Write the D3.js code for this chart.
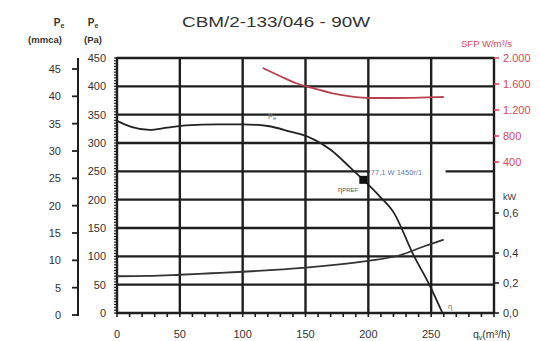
<!DOCTYPE html>
<html>
<head>
<meta charset="utf-8">
<script src="https://cdn.jsdelivr.net/npm/d3@7"></script>
<style>
  body { margin: 0; background: #fff; }
  text { font-family: "Liberation Sans", Arial, sans-serif; fill: #333; }
</style>
</head>
<body>
<div class="chart"></div>
<script>
// chart values
var flowTicks = [0, 50, 100, 150, 200, 250];
var paTicks = [0, 50, 100, 150, 200, 250, 300, 350, 400, 450];
var mmTicks = [0, 5, 10, 15, 20, 25, 30, 35, 40, 45];
var sfpTicks = [400, 800, 1200, 1600, 2000];
var sfpTickLabels = ["400", "800", "1.200", "1.600", "2.000"];
var kwTicks = [0, 0.2, 0.4, 0.6];
var kwTickLabels = ["0,0", "0,2", "0,4", "0,6"];

// pressure curve (Pa)
var presFlow = [0, 12, 26, 40, 55, 80, 100, 120, 138, 152, 170, 185, 196, 209, 220, 236, 249, 259];
var presPa = [339, 328, 323, 327, 331, 333, 333, 330, 320, 311, 288, 258, 235, 206, 178, 102, 48, 0];

// absorbed power (kW)
var powFlow = [0, 25, 50, 75, 100, 125, 150, 175, 200, 225, 245, 260];
var powKw = [0.245, 0.247, 0.255, 0.265, 0.275, 0.287, 0.302, 0.322, 0.348, 0.385, 0.435, 0.467];

// SFP (W/m3/s)
var sfpFlow = [116, 130, 142, 156, 178, 200, 218, 235, 247, 260];
var sfpVal = [1846, 1720, 1615, 1538, 1431, 1385, 1385, 1388, 1393, 1400];

// operating point
var opFlow = 196;
var opPa = 235;

var svgWidth = 540;
var svgHeight = 341;

var svg = d3.select(".chart")
  .append("svg")
  .attr("width", svgWidth)
  .attr("height", svgHeight);

var x = d3.scaleLinear().domain([0, 300]).range([117, 494]);
var y = d3.scaleLinear().domain([0, 450]).range([313, 58]);
var yMm = d3.scaleLinear().domain([0, 45]).range([315, 69]);
var ySfp = d3.scaleLinear().domain([400, 2000]).range([162, 58]);
var yKw = d3.scaleLinear().domain(kwTicks).range([313, 283, 253, 213]);

var gridColor = "#1e1e1e";

// horizontal grid
svg.append("g").selectAll("line")
  .data(paTicks)
  .enter()
  .append("line")
  .attr("x1", x(0)).attr("x2", x(300))
  .attr("y1", d => y(d)).attr("y2", d => y(d))
  .attr("stroke", gridColor)
  .attr("stroke-width", 2.4);

// white box behind the operating point label
svg.append("rect")
  .attr("x", x(201)).attr("y", y(262))
  .attr("width", 76).attr("height", 14)
  .attr("fill", "#fff");

// vertical grid
svg.append("g").selectAll("line")
  .data(flowTicks.concat([300]))
  .enter()
  .append("line")
  .attr("x1", d => x(d)).attr("x2", d => x(d))
  .attr("y1", y(0) + 1).attr("y2", y(450) - 1)
  .attr("stroke", gridColor)
  .attr("stroke-width", 2.4);

// bottom axis: minor ticks every 10
svg.append("g").selectAll("line")
  .data(d3.range(0, 301, 10))
  .enter()
  .append("line")
  .attr("x1", d => x(d)).attr("x2", d => x(d))
  .attr("y1", y(0)).attr("y2", y(0) + 4)
  .attr("stroke", gridColor)
  .attr("stroke-width", 1.6);

svg.append("g").selectAll("text")
  .data(flowTicks)
  .enter()
  .append("text")
  .attr("x", d => x(d))
  .attr("y", 338)
  .attr("text-anchor", "middle")
  .attr("font-size", 11)
  .text(d => d);

svg.append("text")
  .attr("x", 473).attr("y", 338)
  .attr("font-size", 10.5)
  .html("q<tspan font-size='7' dy='2'>v</tspan><tspan dy='-2'>(m³/h)</tspan>");

// left Pa axis: minor ticks every 5 Pa
svg.append("g").selectAll("line")
  .data(d3.range(0, 451, 5))
  .enter()
  .append("line")
  .attr("x1", x(0) - 3).attr("x2", x(0))
  .attr("y1", d => y(d)).attr("y2", d => y(d))
  .attr("stroke", gridColor)
  .attr("stroke-width", 1.2);

svg.append("g").selectAll("text")
  .data(paTicks)
  .enter()
  .append("text")
  .attr("x", 106)
  .attr("y", d => y(d) + 4)
  .attr("text-anchor", "end")
  .attr("font-size", 11)
  .text(d => d);

// outer mmca axis
svg.append("line")
  .attr("x1", 78).attr("x2", 78)
  .attr("y1", y(450)).attr("y2", yMm(0) + 1)
  .attr("stroke", gridColor)
  .attr("stroke-width", 2);

svg.append("g").selectAll("line")
  .data(mmTicks)
  .enter()
  .append("line")
  .attr("x1", 72).attr("x2", 78)
  .attr("y1", d => yMm(d)).attr("y2", d => yMm(d))
  .attr("stroke", gridColor)
  .attr("stroke-width", 1.8);

svg.append("g").selectAll("text")
  .data(mmTicks)
  .enter()
  .append("text")
  .attr("x", 61)
  .attr("y", d => yMm(d) + 4)
  .attr("text-anchor", "end")
  .attr("font-size", 11)
  .text(d => d);

// left headers
svg.append("text").attr("x", 59).attr("y", 26).attr("text-anchor", "middle")
  .attr("font-size", 10).attr("font-weight", "bold")
  .html("P<tspan font-size='7' dy='2'>e</tspan>");
svg.append("text").attr("x", 93).attr("y", 26).attr("text-anchor", "middle")
  .attr("font-size", 10).attr("font-weight", "bold")
  .html("P<tspan font-size='7' dy='2'>e</tspan>");
svg.append("text").attr("x", 45).attr("y", 43).attr("text-anchor", "middle")
  .attr("font-size", 9.5).attr("font-weight", "bold").text("(mmca)");
svg.append("text").attr("x", 93).attr("y", 43).attr("text-anchor", "middle")
  .attr("font-size", 9.5).attr("font-weight", "bold").text("(Pa)");

// title
svg.append("text")
  .attr("x", 182).attr("y", 27)
  .attr("font-size", 15)
  .attr("textLength", 188)
  .attr("lengthAdjust", "spacingAndGlyphs")
  .text("CBM/2-133/046 - 90W");

// right axes
var red = "#d9485a";

svg.append("g").selectAll("line")
  .data(sfpTicks)
  .enter()
  .append("line")
  .attr("x1", x(300)).attr("x2", x(300) + 5)
  .attr("y1", d => ySfp(d)).attr("y2", d => ySfp(d))
  .attr("stroke", red)
  .attr("stroke-width", 1.6);

svg.append("g").selectAll("text")
  .data(sfpTicks)
  .enter()
  .append("text")
  .attr("x", 503)
  .attr("y", d => ySfp(d) + 4)
  .attr("font-size", 11)
  .style("fill", red)
  .text((d, i) => sfpTickLabels[i]);

svg.append("text")
  .attr("x", 461).attr("y", 47)
  .attr("font-size", 9.5)
  .style("fill", red)
  .text("SFP W/m³/s");

svg.append("g").selectAll("line")
  .data(kwTicks)
  .enter()
  .append("line")
  .attr("x1", x(300)).attr("x2", x(300) + 5)
  .attr("y1", d => yKw(d)).attr("y2", d => yKw(d))
  .attr("stroke", gridColor)
  .attr("stroke-width", 1.6);

svg.append("g").selectAll("text")
  .data(kwTicks)
  .enter()
  .append("text")
  .attr("x", 503)
  .attr("y", d => yKw(d) + 4)
  .attr("font-size", 11)
  .text((d, i) => kwTickLabels[i]);

svg.append("text")
  .attr("x", 503).attr("y", 200)
  .attr("font-size", 9)
  .text("kW");

// curves
var presLine = d3.line()
  .x((d, i) => x(presFlow[i]))
  .y(d => y(d))
  .curve(d3.curveMonotoneX);

svg.append("path")
  .attr("d", presLine(presPa))
  .attr("fill", "none")
  .attr("stroke", "#222")
  .attr("stroke-width", 1.8);

var powLine = d3.line()
  .x((d, i) => x(powFlow[i]))
  .y(d => yKw(d))
  .curve(d3.curveMonotoneX);

svg.append("path")
  .attr("d", powLine(powKw))
  .attr("fill", "none")
  .attr("stroke", "#333")
  .attr("stroke-width", 1.8);

var sfpLine = d3.line()
  .x((d, i) => x(sfpFlow[i]))
  .y(d => ySfp(d))
  .curve(d3.curveMonotoneX);

svg.append("path")
  .attr("d", sfpLine(sfpVal))
  .attr("fill", "none")
  .attr("stroke", "#b8404e")
  .attr("stroke-width", 1.8);

// operating point
svg.append("rect")
  .attr("x", x(opFlow) - 4).attr("y", y(opPa) - 4)
  .attr("width", 8).attr("height", 8)
  .attr("fill", "#111");

svg.append("text")
  .attr("x", x(202)).attr("y", y(248) + 3)
  .attr("font-size", 7.5)
  .style("fill", "#6a78a8")
  .text("77,1 W 1450r/1");

svg.append("text")
  .attr("x", x(192)).attr("y", y(218) + 3)
  .attr("text-anchor", "end")
  .attr("font-size", 7.5)
  .style("fill", "#555")
  .html("η<tspan font-size='6'>PREF</tspan>");

// curve labels
svg.append("text")
  .attr("x", 268).attr("y", 119)
  .attr("font-size", 7.5)
  .style("fill", "#777")
  .html("P<tspan font-size='6' dy='1'>e</tspan>");

svg.append("text")
  .attr("x", 448).attr("y", 309)
  .attr("font-size", 8)
  .style("fill", "#777")
  .text("η");
</script>
</body>
</html>
